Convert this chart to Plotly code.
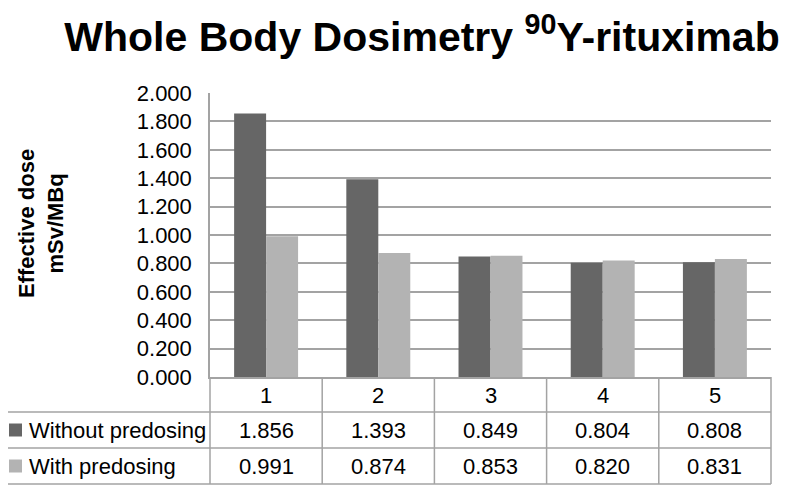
import plotly.graph_objects as go

categories = ["1", "2", "3", "4", "5"]
without_predosing = [1.856, 1.393, 0.849, 0.804, 0.808]
with_predosing = [0.991, 0.874, 0.853, 0.820, 0.831]
series_names = ["Without predosing", "With predosing"]
y_ticks = [0.0, 0.2, 0.4, 0.6, 0.8, 1.0, 1.2, 1.4, 1.6, 1.8, 2.0]

dark = "#666666"
light = "#b3b3b3"
grid = "#a3a3a3"
font = "Liberation Sans, Arial, sans-serif"

# the page body has an 8px margin, so the figure is made 8px smaller
OFF = 8
W, H = 799 - OFF, 485 - OFF
# plot area in page pixels
L, R, T, B = 210, 771, 93, 377


def px(p):
    return (p - L) / (R - L)


def py(p):
    return (B - p) / (B - T)


fig = go.Figure()
fig.add_trace(go.Bar(x=categories, y=without_predosing, name=series_names[0],
                     marker=dict(color=dark, line=dict(width=0))))
fig.add_trace(go.Bar(x=categories, y=with_predosing, name=series_names[1],
                     marker=dict(color=light, line=dict(width=0))))

# data table below the chart
row_y = [py(430), py(466)]
line = dict(color=grid, width=1.5)
shapes = []
for yy in [412, 448, 484]:
    shapes.append(dict(type="line", xref="paper", yref="paper",
                       x0=px(OFF), x1=1, y0=py(yy), y1=py(yy), line=line))
for xd in [0, 1]:
    shapes.append(dict(type="line", xref="x domain", yref="paper",
                       x0=xd, x1=xd, y0=0, y1=py(484), line=line))
for i in range(len(categories) - 1):
    shapes.append(dict(type="line", xref="x", yref="paper",
                       x0=i + 0.5, x1=i + 0.5, y0=0, y1=py(484), line=line))
half = 6.5 / (B - T)
for yc, col in zip(row_y, [dark, light]):
    shapes.append(dict(type="rect", xref="paper", yref="paper",
                       x0=px(9), x1=px(22), y0=yc - half, y1=yc + half,
                       fillcolor=col, line=dict(width=0)))

annotations = []
for i, c in enumerate(categories):
    annotations.append(dict(x=i, y=py(395), xref="x", yref="paper", text=c,
                            showarrow=False, font=dict(size=22, color="#000"),
                            xanchor="center", yanchor="middle"))
for yc, name, vals in zip(row_y, series_names, [without_predosing, with_predosing]):
    annotations.append(dict(x=px(27), y=yc, xref="paper", yref="paper", text=name,
                            showarrow=False, font=dict(size=22, color="#000"),
                            xanchor="left", yanchor="middle"))
    for i, v in enumerate(vals):
        annotations.append(dict(x=i, y=yc, xref="x", yref="paper", text=f"{v:.3f}",
                                showarrow=False, font=dict(size=22, color="#000"),
                                xanchor="center", yanchor="middle"))
annotations.append(dict(x=px(41), y=py(224), xref="paper", yref="paper",
                        text="<b>Effective dose<br>mSv/MBq</b>", textangle=-90,
                        showarrow=False, font=dict(size=22, color="#000"),
                        xanchor="center", yanchor="middle"))

fig.update_layout(
    width=W, height=H,
    margin=dict(l=L - OFF, r=799 - R, t=T - OFF, b=485 - B, pad=0),
    paper_bgcolor="white", plot_bgcolor="white",
    font=dict(family=font, color="#000"),
    title=dict(text="Whole Body Dosimetry <sup>90</sup>Y-rituximab",
               font=dict(size=41, weight="bold", color="#000"),
               x=(422 - OFF) / W, xanchor="center", xref="container",
               y=1 - (37 - OFF) / H, yanchor="middle", yref="container"),
    barmode="group", bargap=0.43, bargroupgap=0,
    showlegend=False,
    xaxis=dict(type="category", showticklabels=False, ticks="",
               showline=True, linecolor=grid, linewidth=1.5, showgrid=False),
    yaxis=dict(range=[0, 2], tickvals=y_ticks, tickformat=".3f",
               tickfont=dict(size=22, color="#000"), ticks="",
               ticklabelstandoff=12,
               showgrid=True, gridcolor=grid, gridwidth=1.5,
               showline=True, linecolor=grid, linewidth=1.5, zeroline=False),
    shapes=shapes, annotations=annotations,
)

fig.write_html("out.html")
